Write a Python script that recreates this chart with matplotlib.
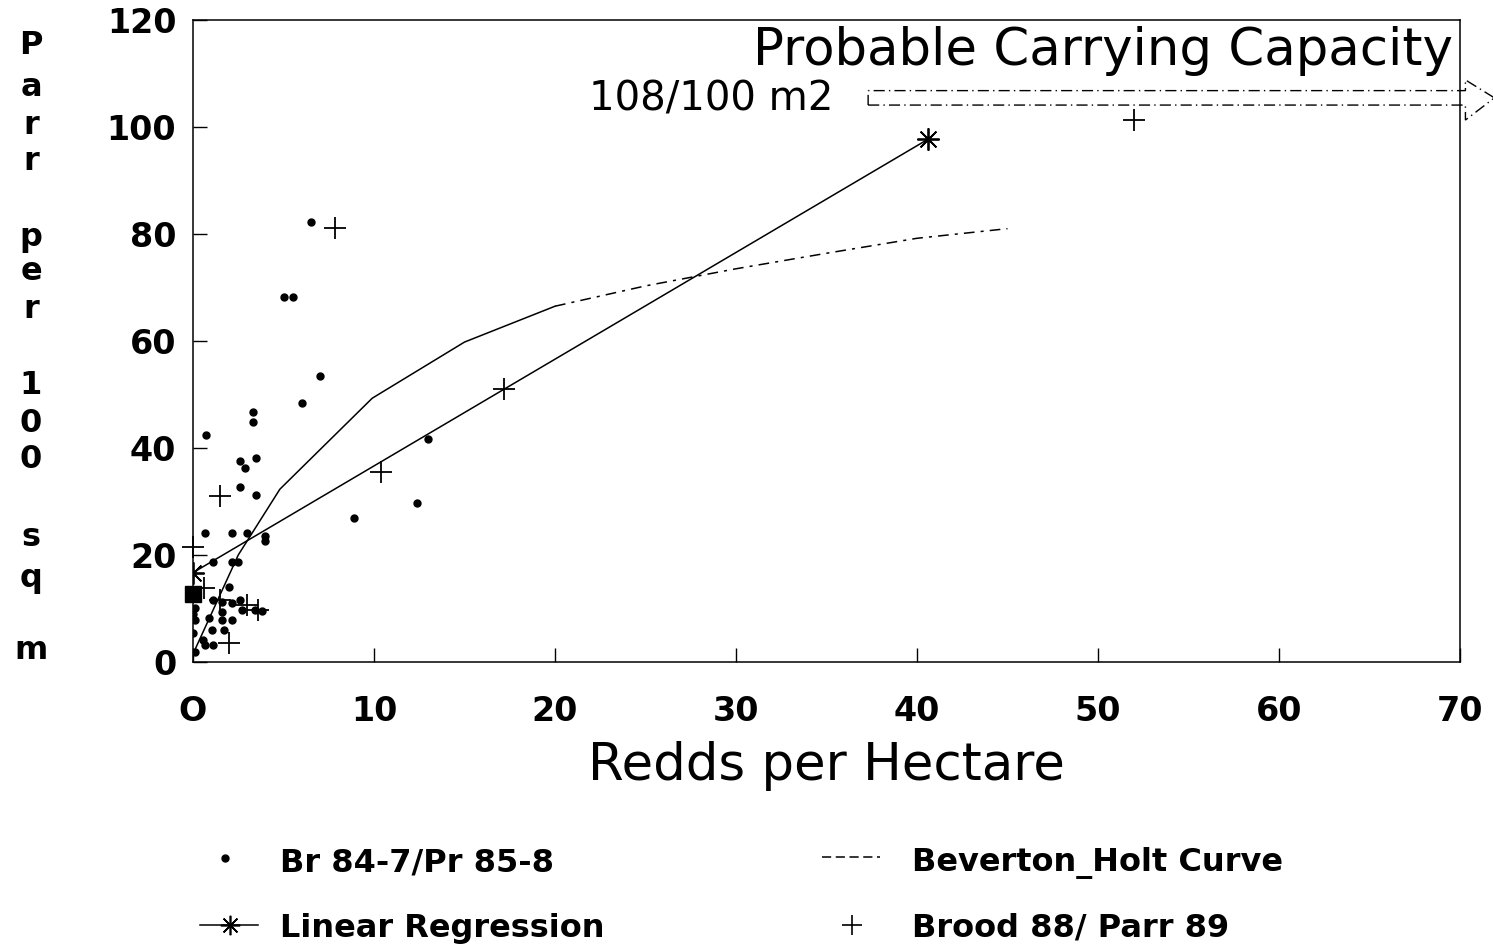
import matplotlib
matplotlib.use("Agg")
import matplotlib.pyplot as plt
from matplotlib.patches import Polygon

# ---------------- data ----------------
br_x = [6.5, 5.0, 5.5, 7.0, 6.0, 3.3, 3.3, 0.7, 3.5, 2.6, 2.9, 2.6, 3.5,
        0.66, 2.15, 3.0, 4.0, 4.0, 1.1, 2.15, 2.5, 2.0, 1.1, 1.6, 2.15, 2.6,
        0.1, 0.1, 0.9, 1.6, 1.6, 2.15, 2.7, 3.4, 3.8, 1.7, 1.05, 0.55, 1.1,
        0.66, 0.1, 0.0, 0.0, 13.0, 12.4, 8.9]
br_y = [82.2, 68.3, 68.3, 53.5, 48.4, 46.8, 44.8, 42.4, 38.2, 37.5, 36.2, 32.8, 31.2,
        24.2, 24.2, 24.2, 23.5, 22.6, 18.6, 18.6, 18.6, 14.1, 11.6, 11.3, 11.0, 11.6,
        10.1, 7.9, 8.2, 9.4, 7.9, 7.9, 9.8, 9.8, 9.6, 6.0, 6.0, 4.1, 3.2,
        3.2, 1.9, 5.5, 9.0, 41.6, 29.7, 27.0]

cluster_x = [0.0]
cluster_y = [12.8]

brood_x = [7.85, 52.0, 17.2, 10.4, 1.5, 0.0, 1.5, 3.0, 3.6, 2.0, 0.6]
brood_y = [81.2, 101.3, 51.0, 35.6, 31.0, 21.5, 11.6, 10.7, 9.8, 3.6, 13.8]

reg_x = [0.0, 40.6]
reg_y = [16.7, 97.7]

bh_x = [0.0, 2.5, 4.8, 9.9, 15.0, 20.0, 25.0, 30.0, 35.0, 40.0, 45.0]
bh_y = [1.5, 20.0, 32.3, 49.3, 59.8, 66.5, 70.3, 73.5, 76.4, 79.2, 81.0]

cap_low, cap_high = 104.1, 106.8
cap_start, cap_head, cap_tip = 37.3, 70.3, 71.9
cap_head_low, cap_head_high = 101.3, 108.8

xticks = [0, 10, 20, 30, 40, 50, 60, 70]
xtick_labels = ["O", "10", "20", "30", "40", "50", "60", "70"]
yticks = [0, 20, 40, 60, 80, 100, 120]

title = "Probable Carrying Capacity"
cap_text = "108/100 m2"
xlabel = "Redds per Hectare"
ylabel = "Parr per 100 sq m"
legend_labels = ["Br 84-7/Pr 85-8", "Linear Regression",
                 "Beverton_Holt Curve", "Brood 88/ Parr 89"]

# ---------------- figure ----------------
W, H = 1493, 946
plt.rcParams['font.family'] = ['DejaVu Sans']
fig = plt.figure(figsize=(W / 100, H / 100), dpi=100)
fig.patch.set_facecolor("white")

ax = fig.add_axes([193 / W, 1 - 662 / H, (1460 - 193) / W, (662 - 20) / H])
ax.set_xlim(0, 70)
ax.set_ylim(0, 120)
for s in ax.spines.values():
    s.set_linewidth(1.1)
    s.set_color("black")

# Beverton-Holt curve: solid then dashed
split = 6
ax.plot(bh_x[:split], bh_y[:split], color="black", lw=1.1, zorder=2)
ax.plot(bh_x[split - 1:], bh_y[split - 1:], color="black", lw=1.1,
        ls=(0, (7, 4, 2, 4)), zorder=2)

# Linear regression
ax.plot(reg_x, reg_y, color="black", lw=1.1, zorder=2)
ax.plot(reg_x, reg_y, ls="none", marker=(8, 2, 0), ms=16, mew=1.3,
        color="black", zorder=4)

# Data points
ax.plot(br_x, br_y, ls="none", marker="o", ms=5, color="black", zorder=3)
ax.plot(cluster_x, cluster_y, ls="none", marker="s", ms=12, color="black",
        zorder=3, clip_on=False)
ax.plot(brood_x, brood_y, ls="none", marker="+", ms=16, mew=1.3,
        color="black", zorder=4, clip_on=False)

# Carrying capacity arrow
arrow = Polygon([(cap_start, cap_low), (cap_head, cap_low), (cap_head, cap_head_low),
                 (cap_tip, (cap_low + cap_high) / 2), (cap_head, cap_head_high),
                 (cap_head, cap_high), (cap_start, cap_high)], closed=True,
                fill=False, edgecolor="black", lw=1.0, ls=(0, (8, 3, 1, 3)),
                clip_on=False, zorder=2)
ax.add_patch(arrow)

ax.text(0.994, 0.952, title, transform=ax.transAxes, ha="right", va="center",
        fontsize=37)
ax.text(cap_start - 1.9, (cap_low + cap_high) / 2 - 0.3, cap_text, ha="right",
        va="center", fontsize=29)

# ticks
ax.set_xticks(xticks)
ax.set_xticklabels(xtick_labels)
ax.set_yticks(yticks)
ax.tick_params(direction="in", length=10, width=1, labelsize=24)
ax.tick_params(axis="x", pad=24)
ax.tick_params(axis="y", pad=12)
for lab in ax.get_xticklabels() + ax.get_yticklabels():
    lab.set_fontweight("bold")

ax.set_xlabel(xlabel, fontsize=37, labelpad=9)

# stacked y label
letters = [c for c in ylabel if c != " "]
for ch, p in zip(letters, [45, 87, 125, 162, 237, 272, 310, 385, 423, 460, 537, 578, 650]):
    fig.text(31 / W, 1 - p / H, ch, ha="center", va="center",
             fontsize=23, fontweight="bold")

# legend (manual)
lax = fig.add_axes([0, 0, 1, 1], facecolor="none")
lax.set_xlim(0, W)
lax.set_ylim(H, 0)
lax.axis("off")
lax.plot([225], [858], marker="o", ms=5, color="black", ls="none")
lax.plot([200, 258], [925, 925], color="black", lw=1.1)
lax.plot([230], [925], marker=(8, 2, 0), ms=14, mew=1.2, color="black")
lax.plot([822, 880], [857, 857], color="black", lw=1.1, ls=(0, (6, 3)))
lax.plot([852], [925], marker="+", ms=14, mew=1.2, color="black")
for (x, y), lab in zip([(280, 863), (280, 928), (912, 863), (912, 928)], legend_labels):
    lax.text(x, y, lab, ha="left", va="center", fontsize=23, fontweight="bold")

fig.savefig("out.png", dpi=100, facecolor="white")
